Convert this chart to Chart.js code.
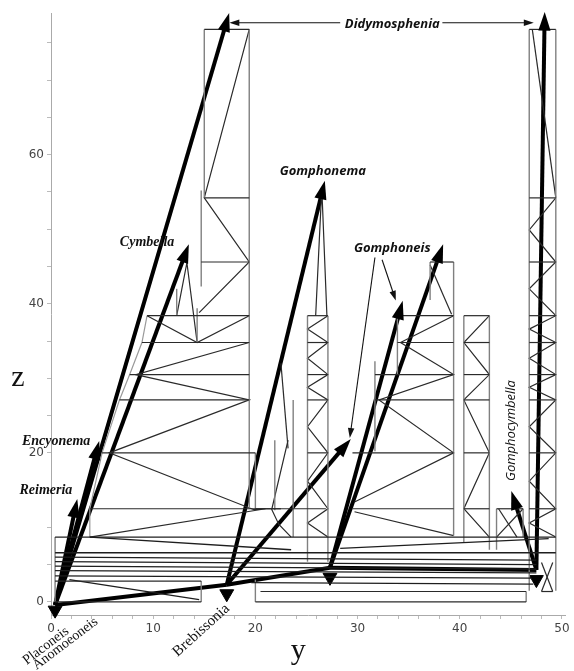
<!DOCTYPE html>
<html>
<head>
<meta charset="utf-8">
<script src="https://cdn.jsdelivr.net/npm/chart.js@4.4.1/dist/chart.umd.min.js"></script>
<style>
html, body { margin: 0; padding: 0; background: #fff; }
#wrap { width: 574px; height: 671px; }
</style>
</head>
<body>
<div id="wrap"><canvas id="chart"></canvas></div>
<script>
// horizontal rungs: [yFrom, yTo, z]
const rungsLeft = [[15.0,19.4,76.8],[15.0,19.4,54.2],[14.7,19.4,45.6],[9.4,19.4,38.4],[8.9,19.4,34.8],
  [7.7,19.4,30.5],[6.7,19.4,27.1],[5.0,20.0,20],[3.8,26.9,12.5]];
const rungsMid = [[25.1,27.1,38.4],[25.1,27.1,34.8],[25.1,27.1,30.5],[25.1,27.1,27.1],[25.1,27.1,20],[20.0,22.5,12.5]];
const rungsGomphoneis = [[37.1,39.4,45.6],[33.9,39.4,38.4],[33.9,39.4,34.8],[31.7,39.4,30.5],[31.7,39.4,27.1],
  [29.5,39.4,20],[29.5,39.4,12.5]];
const rungsSmall = [[40.4,42.9,38.4],[40.4,42.9,34.8],[40.4,42.9,30.5],[40.4,42.9,27.1],[40.4,42.9,20],
  [40.4,42.9,12.5],[43.6,46.2,12.5]];
const rungsRight = [[46.8,49.4,76.8],[46.8,49.4,54.2],[46.8,49.4,45.6],[46.8,49.4,38.4],[46.8,49.4,34.8],
  [46.8,49.4,30.5],[46.8,49.4,27.1],[46.8,49.4,20],[46.8,49.4,12.5]];
const rungsBoxes = [[0.4,14.7,2.8],[0.4,14.7,0],[20.0,46.5,0],[20.5,46.5,1.4],[48.0,49.1,1.4]];

// long lines near the base: [yFrom, yTo, zFrom, zTo]
const baseLines = [[0.4,49.4,8.7,8.7],[0.4,49.4,6.6,6.6],[0.4,47.5,5.4,5.0],[0.4,47.5,4.8,4.4],
  [0.4,47.5,4.2,3.9],[0.4,47.0,3.5,3.2],[19.6,47.2,2.6,2.4],[3.8,23.5,8.7,7.0],[28.3,48.7,7.2,8.5],
  [1.8,14.5,3.0,0.3],[0.4,47.5,6.0,5.6]];

// vertical posts: [y, zFrom, zTo]
const posts = [[15.0,54.2,76.8],[19.4,12.5,76.8],[14.7,42.3,55.2],[14.3,34.8,39.4],[12.3,38.4,42.0],
  [20.0,12.5,20],[0.4,0,8.7],[21.9,12.3,21.7],[23.7,8.7,27.1],[25.1,5.4,38.4],[27.1,5.4,38.4],
  [37.1,40.5,45.6],[39.4,8.9,45.6],[33.9,30.5,38.4],[31.7,20.2,32.3],[40.4,7.9,38.4],[42.9,7.0,38.4],
  [43.6,7.0,12.5],[46.2,8.7,12.5],[46.8,1.5,76.8],[49.4,1.5,76.8],[14.7,0,2.8],[20.0,0,3.0],[46.5,0,1.4]];

// zigzag bracing
const zigLeftTop = [[19.4,76.8],[15.0,54.2],[19.4,45.6],[14.5,38.8]];
const zigLeftV = [[9.4,38.4],[14.3,34.8],[19.4,38.4]];
const zigLeftLow = [[19.4,34.8],[8.3,30.5],[19.4,27.1],[5.7,20],[19.8,12.4],[21.0,12.5],[3.8,8.7]];
const edgeLeft = [[9.4,38.4],[8.9,34.8],[7.7,30.5],[6.7,27.1],[5.0,20],[3.8,12.5],[3.8,8.7]];
const cymbellaSpike = [[12.3,38.4],[13.3,45.5],[14.3,34.8]];
const gomphonemaSpike = [[25.9,38.4],[26.5,55.5],[27.0,38.4]];
const zigMid = [[27.1,38.4],[25.1,36.6],[27.1,34.8],[25.1,32.7],[27.1,30.5],[25.1,28.8],[27.1,27.1],
  [25.1,23.5],[27.1,20],[25.1,16.2],[27.1,12.5],[25.1,10.6],[27.1,8.7]];
const zigSpikes = [[23.2,21.7],[21.6,12.4],[22.3,10.4],[23.5,8.7]];
const spikeUpper = [[22.5,32.0],[23.2,20.6]];
const zigGomphoneis = [[39.4,38.4],[34.2,34.8],[39.4,30.5],[32.1,27.1],[39.4,20],[29.7,13.4]];
const zigGomphoneisLow = [[29.7,12.1],[39.4,8.9]];
const diagGomphoneis = [[37.1,45.2],[39.2,38.6]];
const zigSmall = [[42.9,38.4],[40.4,34.8],[42.9,30.5],[40.4,27.1],[42.9,20],[40.4,12.5],[42.9,8.7]];
const crossBoxA = [[43.6,8.7],[46.2,12.5]];
const crossBoxB = [[43.8,12.5],[45.6,8.7]];
const diagRight = [[47.1,76.8],[49.4,54.2]];
const zigRight = [[49.4,54.2],[46.8,49.9],[49.4,45.6],[46.8,42],[49.4,38.4],[46.8,36.6],[49.4,34.8],
  [46.8,32.7],[49.4,30.5],[46.8,28.8],[49.4,27.1],[46.8,23.5],[49.4,20],[46.8,16.2],[49.4,12.5],
  [46.8,10.6],[49.4,8.7]];
const footA = [[48.0,5.3],[49.1,1.4]];
const footB = [[48.0,1.4],[49.1,5.3]];

// thick lineage branches
const branchStart = [[0.4,-0.4],[0.4,-0.4],[0.4,-0.4],[0.4,-0.4],[0.4,-0.4],
  [17.2,2.3],[17.2,2.3],[17.2,2.3],[27.3,4.6],[27.3,4.6],[27.3,4.6],[47.5,4.3],[47.5,4.3]];
const branchEnd = [[17.2,77.9],[13.2,46.9],[4.5,20.5],[2.4,12.7],[17.2,2.3],
  [26.6,55.4],[28.8,21.0],[27.3,4.6],[34.2,39.3],[38.1,46.9],[47.5,4.3],[48.3,78.0],[45.3,13.8]];
const branchArrow = [true,true,true,true,false,true,true,false,true,true,false,true,true];
const nodeY = [0.4,17.2,27.3,47.5];
const nodeZ = [-1.1,1.1,3.3,3.0];

// pointer arrows for labels
const pointerStart = [[28.3,77.7],[38.3,77.7],[31.7,46.2],[32.4,45.9]];
const pointerEnd = [[17.9,77.7],[46.8,77.7],[29.3,22.6],[33.6,41.0]];

// taxon names
const taxa = ['Didymosphenia','Cymbella','Gomphonema','Gomphoneis','Encyonema','Reimeria',
  'Gomphocymbella','Placoneis','Anomoeoneis','Brebissonia'];
const taxaY = [33.4, 9.4, 26.6, 33.4, 0.5, -0.5, 45.0, -0.5, 1.4, 14.7];
const taxaZ = [77.5, 48.2, 57.7, 47.5, 21.6, 14.9, 23.0, -5.9, -5.6, -3.8];

const sansName = 'italic bold 13px "Open Sans"';
const serifName = 'italic bold 14px "Liberation Serif"';
const taxaStyle = {
  Didymosphenia: [sansName, 0], Gomphonema: [sansName, 0], Gomphoneis: [sansName, 0],
  Gomphocymbella: ['italic 13px "Open Sans"', -90],
  Cymbella: [serifName, 0], Encyonema: [serifName, 0], Reimeria: [serifName, 0],
  Placoneis: ['14px "Liberation Serif"', -37], Anomoeoneis: ['14px "Liberation Serif"', -37],
  Brebissonia: ['15px "Liberation Serif"', -42]
};

function line(pts, color, width, head) {
  return {
    data: pts.map(p => ({ x: p[0], y: p[1] })),
    showLine: true, borderColor: color, backgroundColor: color, borderWidth: width,
    pointRadius: 0, clip: false, head: head || 0
  };
}

const datasets = [];
rungsLeft.concat(rungsMid, rungsGomphoneis, rungsSmall, rungsRight, rungsBoxes)
  .forEach(r => datasets.push(line([[r[0], r[2]], [r[1], r[2]]], '#2a2a2a', 1.2)));
baseLines.forEach(b => datasets.push(line([[b[0], b[2]], [b[1], b[3]]], '#1e1e1e', 1.3)));
posts.forEach(p => datasets.push(line([[p[0], p[1]], [p[0], p[2]]], '#808080', 1.4)));
[zigLeftTop, zigLeftV, zigLeftLow, cymbellaSpike, gomphonemaSpike, zigMid, zigSpikes, spikeUpper,
  zigGomphoneis, zigGomphoneisLow, diagGomphoneis, zigSmall, crossBoxA, crossBoxB, diagRight,
  zigRight, footA, footB].forEach(z => datasets.push(line(z, '#2a2a2a', 1.2)));
datasets.push(line(edgeLeft, '#9a9a9a', 1.2));
pointerStart.forEach((s, i) => datasets.push(line([s, pointerEnd[i]], '#111', 1.1, 9)));
branchStart.forEach((s, i) => datasets.push(line([s, branchEnd[i]], '#000', 4, branchArrow[i] ? 17 : 0)));
datasets.push({
  data: nodeY.map((y, i) => ({ x: y, y: nodeZ[i] })),
  pointStyle: 'triangle', rotation: 180, pointRadius: 8,
  backgroundColor: '#000', borderColor: '#000', clip: false
});

const arrowHeads = {
  id: 'arrowHeads',
  afterDatasetsDraw(chart) {
    const ctx = chart.ctx;
    chart.data.datasets.forEach((ds, i) => {
      if (!ds.head) return;
      const pts = chart.getDatasetMeta(i).data;
      const a = pts[pts.length - 2], b = pts[pts.length - 1];
      const ang = Math.atan2(b.y - a.y, b.x - a.x);
      const h = ds.head;
      ctx.save();
      ctx.translate(b.x, b.y);
      ctx.rotate(ang);
      ctx.beginPath();
      ctx.moveTo(h * 0.5, 0);
      ctx.lineTo(-h * 0.6, h * 0.36);
      ctx.lineTo(-h * 0.6, -h * 0.36);
      ctx.closePath();
      ctx.fillStyle = ds.borderColor;
      ctx.fill();
      ctx.restore();
    });
  }
};

const textLabels = {
  id: 'textLabels',
  afterDraw(chart) {
    const ctx = chart.ctx, xs = chart.scales.x, ys = chart.scales.y;
    ctx.save();
    ctx.fillStyle = '#111';
    ctx.textAlign = 'center';
    ctx.textBaseline = 'middle';
    taxa.forEach((name, i) => {
      const st = taxaStyle[name];
      ctx.save();
      ctx.translate(xs.getPixelForValue(taxaY[i]), ys.getPixelForValue(taxaZ[i]));
      ctx.rotate(st[1] * Math.PI / 180);
      ctx.font = st[0];
      ctx.fillText(name, 0, 0);
      ctx.restore();
    });
    // axis titles
    ctx.font = '30px "Liberation Serif"';
    ctx.fillText('z', chart.chartArea.left - 33, ys.getPixelForValue(30));
    ctx.fillText('y', xs.getPixelForValue(24.2), chart.chartArea.bottom + 36);
    ctx.restore();
  }
};

const tickFont = { family: '"DejaVu Sans"', size: 12 };

new Chart(document.getElementById('chart'), {
  type: 'scatter',
  data: { datasets },
  options: {
    responsive: true,
    maintainAspectRatio: false,
    animation: false,
    layout: { padding: { top: 13, right: 5, left: 0, bottom: 0 } },
    plugins: { legend: { display: false }, tooltip: { enabled: false } },
    scales: {
      x: {
        type: 'linear', min: 0, max: 50.3,
        afterFit: s => { s.height = 56; },
        ticks: {
          stepSize: 2, autoSkip: false, maxRotation: 0, includeBounds: false, padding: 3,
          color: '#444', font: tickFont,
          callback: v => (v % 10 === 0 ? v : '')
        },
        grid: { drawOnChartArea: false, tickLength: 4, color: '#bbb' },
        border: { color: '#aaa' }
      },
      y: {
        type: 'linear', min: -1.75, max: 79,
        afterFit: s => { s.width = 51; },
        ticks: {
          stepSize: 5, autoSkip: false, includeBounds: false, padding: 3,
          color: '#444', font: tickFont,
          callback: v => (v % 20 === 0 ? v : '')
        },
        grid: { drawOnChartArea: false, tickLength: 4, color: '#bbb' },
        border: { color: '#aaa' }
      }
    }
  },
  plugins: [arrowHeads, textLabels]
});
</script>
</body>
</html>
